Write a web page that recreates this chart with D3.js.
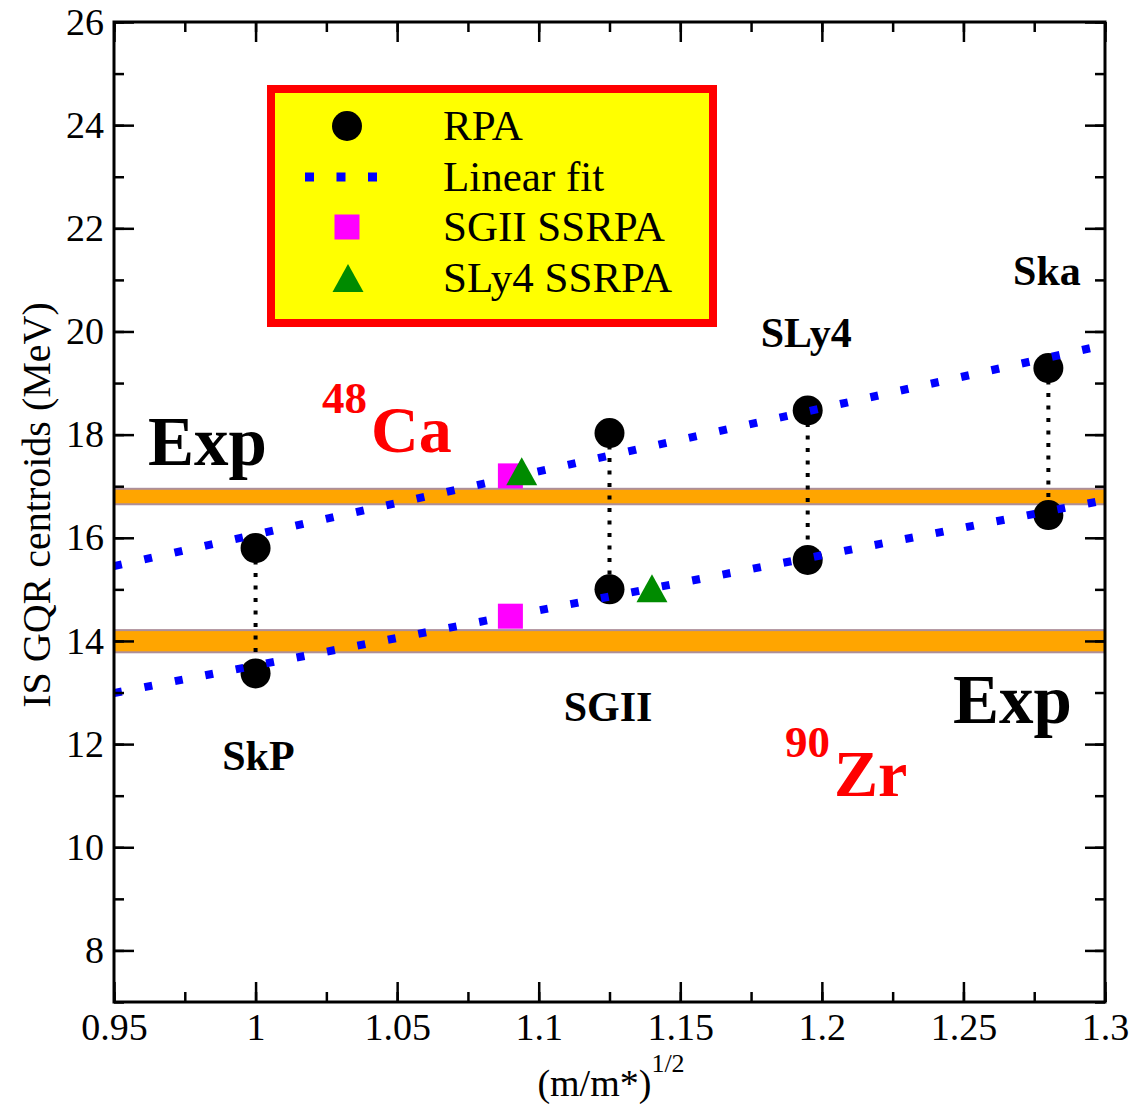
<!DOCTYPE html>
<html>
<head>
<meta charset="utf-8">
<script src="https://cdn.jsdelivr.net/npm/d3@7"></script>
<style>
  body { margin: 0; background: #fff; }
  svg { display: block; }
  text { font-family: "Liberation Serif", "Times New Roman", Times, serif; }
</style>
</head>
<body>
<svg id="chart" width="1133" height="1104"></svg>
<script>
// data
var forces = ["SkP", "SGII", "SLy4", "Ska"];
var mEff = [1.0, 1.125, 1.195, 1.28];
var rpaCa = [15.8, 18.03, 18.47, 19.29];
var rpaZr = [13.37, 15.0, 15.57, 16.44];

var fitX = [0.95, 1.3];
var fitCa = [15.45, 19.74];
var fitZr = [12.99, 16.73];

var sgiiSsX = [1.09, 1.09];
var sgiiSsY = [17.2, 14.48];
var sly4SsX = [1.094, 1.14];
var sly4SsY = [17.29, 15.02];

var expCa = [16.65, 16.95];
var expZr = [13.78, 14.21];

var xMajor = [0.95, 1, 1.05, 1.1, 1.15, 1.2, 1.25, 1.3];
var yMajor = [8, 10, 12, 14, 16, 18, 20, 22, 24, 26];

var legendItems = ["RPA", "Linear fit", "SGII SSRPA", "SLy4 SSRPA"];

// forces label placement (value coords)
var forceLabelPos = [[1.001, 11.5], [1.1245, 12.45], [1.1945, 19.7], [1.2795, 20.9]];

var x0 = 114, x1 = 1105, y0 = 22, y1 = 1002;
var serif = "'Liberation Serif', 'Times New Roman', Times, serif";

var x = d3.scaleLinear().domain([0.95, 1.3]).range([x0, x1]);
var y = d3.scaleLinear().domain([7, 26]).range([y1, y0]);

var svg = d3.select("#chart").attr("font-family", serif);

svg.append("defs").append("clipPath").attr("id", "clip")
  .append("rect").attr("x", x0).attr("y", y0).attr("width", x1 - x0).attr("height", y1 - y0);

// experimental bands
[expCa, expZr].forEach(function(b) {
  svg.append("rect")
    .attr("x", x0).attr("width", x1 - x0)
    .attr("y", y(b[1])).attr("height", y(b[0]) - y(b[1]))
    .attr("fill", "#ffa500")
    .attr("stroke", "#ad8f9a").attr("stroke-width", 2);
});

// vertical dotted connectors
svg.append("g").selectAll("line")
  .data(mEff)
  .enter().append("line")
    .attr("x1", d => x(d)).attr("x2", d => x(d))
    .attr("y1", (d, i) => y(rpaCa[i]))
    .attr("y2", (d, i) => y(rpaZr[i]))
    .attr("stroke", "#000").attr("stroke-width", 4)
    .attr("stroke-dasharray", "4 8.5");

// RPA points
var rpa = mEff.map((d, i) => [d, rpaCa[i]]).concat(mEff.map((d, i) => [d, rpaZr[i]]));
svg.append("g").selectAll("circle")
  .data(rpa)
  .enter().append("circle")
    .attr("cx", d => x(d[0])).attr("cy", d => y(d[1]))
    .attr("r", 15).attr("fill", "#000");

// linear fits
var line = d3.line().x(d => x(d[0])).y(d => y(d[1]));
[fitCa, fitZr].forEach(function(f) {
  svg.append("path")
    .attr("clip-path", "url(#clip)")
    .attr("d", line(fitX.map((d, i) => [d, f[i]])))
    .attr("fill", "none")
    .attr("stroke", "#0000ff").attr("stroke-width", 8)
    .attr("stroke-dasharray", "8 23");
});

// SSRPA
svg.append("g").selectAll("rect")
  .data(sgiiSsX)
  .enter().append("rect")
    .attr("x", (d, i) => x(d) - 12.5).attr("y", (d, i) => y(sgiiSsY[i]) - 12.5)
    .attr("width", 25).attr("height", 25)
    .attr("fill", "#ff00ff");

var tri = "M0,-14L15.5,14L-15.5,14Z";
svg.append("g").selectAll("path")
  .data(sly4SsX)
  .enter().append("path")
    .attr("d", tri)
    .attr("transform", (d, i) => "translate(" + x(d) + "," + y(sly4SsY[i]) + ")")
    .attr("fill", "#008b00");

// axes
function styleAxis(g) {
  g.attr("font-family", serif);
  g.select(".domain").remove();
  g.selectAll(".tick line").attr("stroke", "#000").attr("stroke-width", 2.5);
  g.selectAll(".tick text").attr("font-size", 38).attr("fill", "#000");
}

var fmtX = d => String(+d.toFixed(2));
var xMinor = d3.range(0, 15).map(i => 0.95 + i * 0.025);
var yMinor = d3.range(7, 27);

svg.append("g").attr("transform", "translate(0," + y1 + ")")
  .call(d3.axisBottom(x).tickValues(xMinor).tickSize(-10).tickFormat(""))
  .call(styleAxis);
svg.append("g").attr("transform", "translate(0," + y1 + ")")
  .call(d3.axisBottom(x).tickValues(xMajor).tickSize(-20).tickPadding(11).tickFormat(fmtX))
  .call(styleAxis);
svg.append("g").attr("transform", "translate(0," + y0 + ")")
  .call(d3.axisTop(x).tickValues(xMinor).tickSize(-10).tickFormat(""))
  .call(styleAxis);
svg.append("g").attr("transform", "translate(0," + y0 + ")")
  .call(d3.axisTop(x).tickValues(xMajor).tickSize(-20).tickFormat(""))
  .call(styleAxis);

svg.append("g").attr("transform", "translate(" + x0 + ",0)")
  .call(d3.axisLeft(y).tickValues(yMinor).tickSize(-10).tickFormat(""))
  .call(styleAxis);
svg.append("g").attr("transform", "translate(" + x0 + ",0)")
  .call(d3.axisLeft(y).tickValues(yMajor).tickSize(-20).tickPadding(10).tickFormat(d3.format("d")))
  .call(styleAxis);
svg.append("g").attr("transform", "translate(" + x1 + ",0)")
  .call(d3.axisRight(y).tickValues(yMinor).tickSize(-10).tickFormat(""))
  .call(styleAxis);
svg.append("g").attr("transform", "translate(" + x1 + ",0)")
  .call(d3.axisRight(y).tickValues(yMajor).tickSize(-20).tickFormat(""))
  .call(styleAxis);

svg.append("rect")
  .attr("x", x0).attr("y", y0).attr("width", x1 - x0).attr("height", y1 - y0)
  .attr("fill", "none").attr("stroke", "#000").attr("stroke-width", 3);

// axis titles
svg.append("text")
  .attr("transform", "translate(50," + 505 + ") rotate(-90)")
  .attr("text-anchor", "middle")
  .attr("font-size", 40)
  .text("IS GQR centroids (MeV)");

var xt = svg.append("text")
  .attr("x", 611).attr("y", 1096)
  .attr("text-anchor", "middle")
  .attr("font-size", 38);
xt.append("tspan").text("(m/m*)");
xt.append("tspan").attr("font-size", 26).attr("dy", -24).text("1/2");

// force labels
svg.append("g").selectAll("text")
  .data(forces)
  .enter().append("text")
    .attr("x", (d, i) => x(forceLabelPos[i][0]))
    .attr("y", (d, i) => y(forceLabelPos[i][1]))
    .attr("text-anchor", "middle")
    .attr("font-size", 42).attr("font-weight", "bold")
    .text(d => d);

// Exp labels
svg.append("text").attr("x", 148).attr("y", 465)
  .attr("font-size", 69).attr("font-weight", "bold").text("Exp");
svg.append("text").attr("x", 953).attr("y", 723)
  .attr("font-size", 69).attr("font-weight", "bold").text("Exp");

// nuclei labels
function nucleus(xs, ys, mass, sym) {
  var t = svg.append("text").attr("x", xs).attr("y", ys)
    .attr("fill", "#ff0000").attr("font-weight", "bold");
  t.append("tspan").attr("font-size", 45).text(mass);
  t.append("tspan").attr("font-size", 66).attr("dx", 4).attr("dy", 39).text(sym);
}
nucleus(322, 413, "48", "Ca");
nucleus(785, 757, "90", "Zr");

// legend
var lg = svg.append("g");
lg.append("rect")
  .attr("x", 271).attr("y", 89).attr("width", 442).attr("height", 234)
  .attr("fill", "#ffff00").attr("stroke", "#ff0000").attr("stroke-width", 8);

var rowY = [126, 177, 227, 278];
lg.append("circle").attr("cx", 347).attr("cy", rowY[0]).attr("r", 15).attr("fill", "#000");
lg.append("line").attr("x1", 305).attr("x2", 378).attr("y1", rowY[1]).attr("y2", rowY[1])
  .attr("stroke", "#0000ff").attr("stroke-width", 9).attr("stroke-dasharray", "9 22.5");
lg.append("rect").attr("x", 347 - 12.5).attr("y", rowY[2] - 12.5)
  .attr("width", 25).attr("height", 25).attr("fill", "#ff00ff");
lg.append("path").attr("d", tri).attr("transform", "translate(348," + rowY[3] + ")")
  .attr("fill", "#008b00");

lg.selectAll("text.leg")
  .data(legendItems)
  .enter().append("text")
    .attr("class", "leg")
    .attr("x", 443)
    .attr("y", (d, i) => rowY[i] + 14)
    .attr("font-size", 43)
    .text(d => d);
</script>
</body>
</html>
